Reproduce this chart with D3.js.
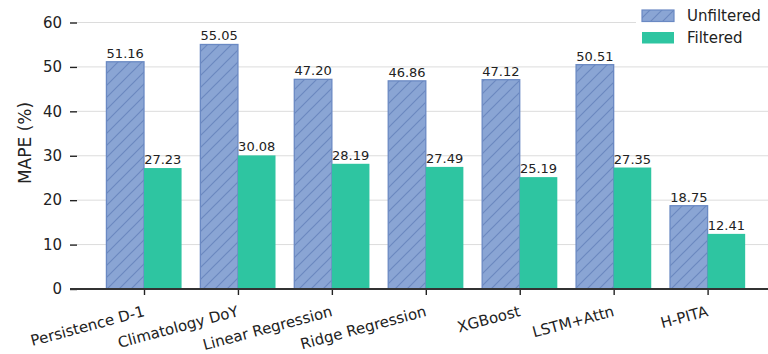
<!DOCTYPE html>
<html>
<head>
<meta charset="utf-8">
<script src="https://cdn.jsdelivr.net/npm/d3@7"></script>
<style>
  html, body { margin: 0; padding: 0; background: #fff; }
  svg { display: block; font-family: "DejaVu Sans", sans-serif; }
</style>
</head>
<body>
<svg id="chart" width="768" height="354"></svg>
<script>
// MAPE by model, before and after filtering
const categories = ["Persistence D-1", "Climatology DoY", "Linear Regression", "Ridge Regression", "XGBoost", "LSTM+Attn", "H-PITA"];
const unfiltered = [51.16, 55.05, 47.20, 46.86, 47.12, 50.51, 18.75];
const filtered = [27.23, 30.08, 28.19, 27.49, 25.19, 27.35, 12.41];
const yTicks = [0, 10, 20, 30, 40, 50, 60];
const seriesNames = ["Unfiltered", "Filtered"];

const W = 768, H = 354;
const plotLeft = 77, plotRight = 768, plotTop = 22.5, plotBottom = 289;
const barWidth = 0.4;

const colUnf = "#8aa5d4", colUnfEdge = "#6a89c3", colHatch = "#6b88c0";
const colFil = "#2ec5a1";

const svg = d3.select("#chart");

// diagonal hatch for the unfiltered bars
const hs = 12;
const defs = svg.append("defs");
const pat = defs.append("pattern")
  .attr("id", "hatch")
  .attr("patternUnits", "userSpaceOnUse")
  .attr("width", hs).attr("height", hs);
pat.append("rect").attr("width", hs).attr("height", hs).attr("fill", colUnf);
pat.append("path")
  .attr("d", `M-2,${hs + 2} L${hs + 2},-2 M-2,2 L2,-2 M${hs - 2},${hs + 2} L${hs + 2},${hs - 2}`)
  .attr("stroke", colHatch).attr("stroke-width", 1.2);

const x = d3.scaleLinear().domain([0, categories.length - 1]).range([144, 707.6]);
const y = d3.scaleLinear().domain([0, 60]).range([plotBottom, plotTop]);

// horizontal grid
svg.append("g").selectAll("line")
  .data(yTicks.filter(d => d > 0))
  .join("line")
  .attr("x1", plotLeft).attr("x2", plotRight)
  .attr("y1", d => y(d)).attr("y2", d => y(d))
  .attr("stroke", "#dcdcdc").attr("stroke-width", 1);

// bars
const groups = svg.append("g").selectAll("g")
  .data(categories.map((c, i) => ({ c, i, u: unfiltered[i], f: filtered[i] })))
  .join("g");

groups.append("rect")
  .attr("x", d => x(d.i - barWidth))
  .attr("y", d => y(d.u))
  .attr("width", d => x(d.i) - x(d.i - barWidth))
  .attr("height", d => y(0) - y(d.u))
  .attr("fill", "url(#hatch)")
  .attr("stroke", colUnfEdge).attr("stroke-width", 1.3);

groups.append("rect")
  .attr("x", d => x(d.i))
  .attr("y", d => y(d.f))
  .attr("width", d => x(d.i + barWidth) - x(d.i))
  .attr("height", d => y(0) - y(d.f))
  .attr("fill", colFil);

// value labels
groups.append("text")
  .attr("x", d => (x(d.i - barWidth) + x(d.i)) / 2)
  .attr("y", d => y(d.u) - 4)
  .attr("text-anchor", "middle")
  .attr("font-size", 13).attr("fill", "#222")
  .text(d => d.u.toFixed(2));

groups.append("text")
  .attr("x", d => (x(d.i) + x(d.i + barWidth)) / 2)
  .attr("y", d => y(d.f) - 4)
  .attr("text-anchor", "middle")
  .attr("font-size", 13).attr("fill", "#222")
  .text(d => d.f.toFixed(2));

// y axis (ticks only, no spine)
const yAxis = svg.append("g").attr("transform", `translate(${plotLeft},0)`)
  .call(d3.axisLeft(y).tickValues(yTicks).tickSize(7).tickPadding(8).tickFormat(d3.format("d")));
yAxis.select(".domain").remove();
yAxis.selectAll(".tick line").attr("stroke", "#222").attr("stroke-width", 1.4);
yAxis.selectAll(".tick text").attr("font-size", 15).attr("fill", "#222")
  .attr("font-family", "DejaVu Sans");

// x axis
const xAxis = svg.append("g").attr("transform", `translate(0,${plotBottom})`)
  .call(d3.axisBottom(x).tickValues(d3.range(categories.length)).tickSize(6).tickFormat(i => categories[i]));
xAxis.select(".domain").remove();
xAxis.append("line")
  .attr("x1", plotLeft - 7).attr("x2", plotRight)
  .attr("y1", 0).attr("y2", 0)
  .attr("stroke", "#333").attr("stroke-width", 1.8);
xAxis.selectAll(".tick line").attr("stroke", "#222").attr("stroke-width", 1.4);
xAxis.selectAll(".tick text")
  .attr("font-size", 15).attr("fill", "#222").attr("font-family", "DejaVu Sans")
  .attr("text-anchor", "end")
  .attr("dominant-baseline", "hanging")
  .attr("x", -2).attr("y", 16)
  .attr("dy", null)
  .attr("transform", "rotate(-15, -2, 16)");

// y label
svg.append("text")
  .attr("transform", `translate(31,143) rotate(-90)`)
  .attr("text-anchor", "middle")
  .attr("font-size", 17).attr("fill", "#222")
  .text("MAPE (%)");

// legend
const lg = svg.append("g");
lg.append("rect").attr("x", 636).attr("y", 0).attr("width", 132).attr("height", 52).attr("fill", "#fff");
seriesNames.forEach((name, k) => {
  const yy = 10 + k * 22;
  lg.append("rect")
    .attr("x", 642).attr("y", yy).attr("width", 32).attr("height", 11.5)
    .attr("fill", k === 0 ? "url(#hatch)" : colFil)
    .attr("stroke", k === 0 ? colUnfEdge : "none").attr("stroke-width", 1.2);
  lg.append("text")
    .attr("x", 687).attr("y", yy + 11)
    .attr("font-size", 15).attr("fill", "#222")
    .text(name);
});
</script>
</body>
</html>
